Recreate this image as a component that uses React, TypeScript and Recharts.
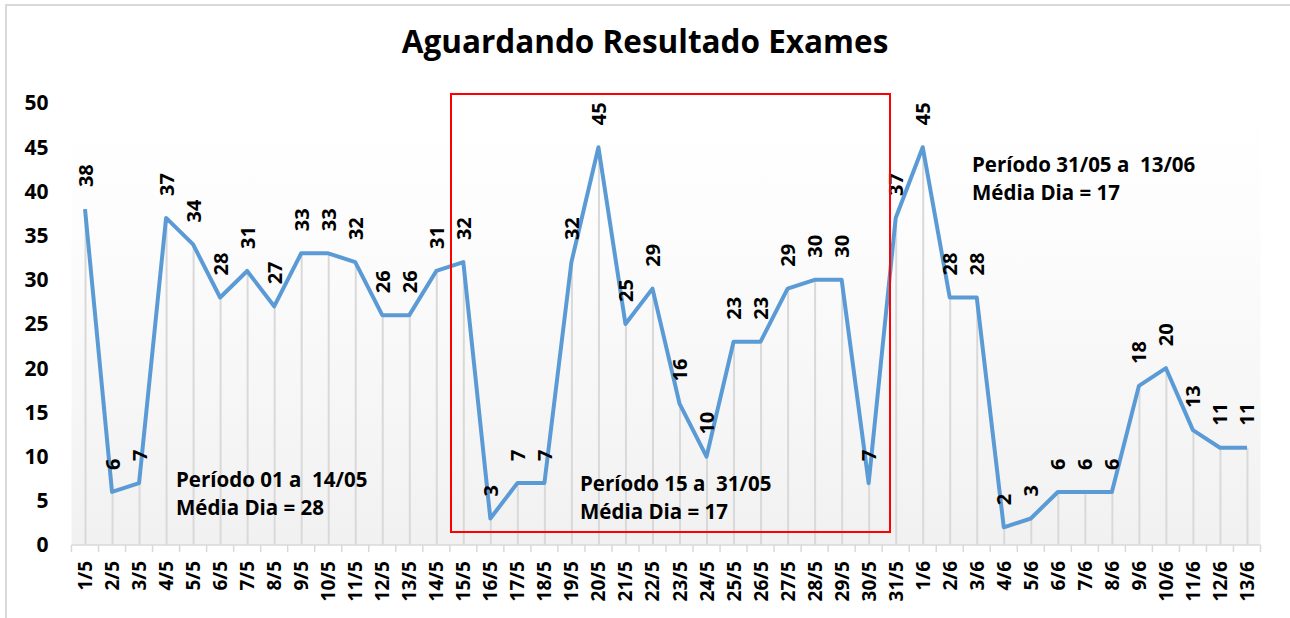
import React from 'react';
import { ComposedChart, Line, Bar, XAxis, YAxis, CartesianGrid, LabelList } from 'recharts';

const categories = [
  '1/5', '2/5', '3/5', '4/5', '5/5', '6/5', '7/5', '8/5', '9/5', '10/5',
  '11/5', '12/5', '13/5', '14/5', '15/5', '16/5', '17/5', '18/5', '19/5', '20/5',
  '21/5', '22/5', '23/5', '24/5', '25/5', '26/5', '27/5', '28/5', '29/5', '30/5',
  '31/5', '1/6', '2/6', '3/6', '4/6', '5/6', '6/6', '7/6', '8/6', '9/6',
  '10/6', '11/6', '12/6', '13/6',
];
const values = [
  38, 6, 7, 37, 34, 28, 31, 27, 33, 33,
  32, 26, 26, 31, 32, 3, 7, 7, 32, 45,
  25, 29, 16, 10, 23, 23, 29, 30, 30, 7,
  37, 45, 28, 28, 2, 3, 6, 6, 6, 18,
  20, 13, 11, 11,
];
const yTicks = [0, 5, 10, 15, 20, 25, 30, 35, 40, 45, 50];
const title = 'Aguardando Resultado Exames';
const notes = [
  { lines: ['Período 01 a  14/05', 'Média Dia = 28'], x: 176, y: 487 },
  { lines: ['Período 15 a  31/05', 'Média Dia = 17'], x: 580, y: 491 },
  { lines: ['Período 31/05 a  13/06', 'Média Dia = 17'], x: 972, y: 172 },
];

const data = categories.map((c, i) => ({ day: c, value: values[i] }));

const W = 1290;
const H = 618;
const PLOT_LEFT = 71.5;
const PLOT_RIGHT = 1260.5;
const PLOT_TOP = 103;
const PLOT_BOTTOM = 545;
const YAXIS_W = 60;
const XAXIS_H = 60;
const BAND = (PLOT_RIGHT - PLOT_LEFT) / categories.length;
const FONT = "'Open Sans', 'DejaVu Sans', sans-serif";

const XTick = (props: any) => {
  const { x, y, payload, index } = props;
  return (
    <g>
      <line x1={x - BAND / 2} x2={x - BAND / 2} y1={y} y2={y + 7} stroke="#d9d9d9" strokeWidth={1.5} />
      {index === categories.length - 1 && (
        <line x1={x + BAND / 2} x2={x + BAND / 2} y1={y} y2={y + 7} stroke="#d9d9d9" strokeWidth={1.5} />
      )}
      <text
        transform={`translate(${x},${y + 16}) rotate(-90)`}
        textAnchor="end"
        dominantBaseline="central"
        fontFamily={FONT}
        fontWeight={700}
        fontSize={19}
        fill="#000"
      >
        {payload.value}
      </text>
    </g>
  );
};

const PointLabel = (props: any) => {
  const { x, y, value } = props;
  return (
    <text
      transform={`translate(${x},${y - 22}) rotate(-90)`}
      textAnchor="start"
      dominantBaseline="central"
      fontFamily={FONT}
      fontWeight={700}
      fontSize={20}
      fill="#000"
    >
      {value}
    </text>
  );
};

export default function App() {
  return (
    <div style={{ position: 'absolute', left: 0, top: 0, width: W, height: H, overflow: 'hidden', background: '#fff' }}>
      <div
        style={{
          position: 'absolute', left: 5, top: 4, width: 1400, height: 800,
          borderLeft: '2px solid #d9d9d9', borderTop: '2px solid #d9d9d9',
        }}
      />
      <div style={{ position: 'absolute', left: 0, top: 0 }}>
        <ComposedChart
          width={W}
          height={H}
          data={data}
          margin={{ top: PLOT_TOP, right: W - PLOT_RIGHT, left: PLOT_LEFT - YAXIS_W, bottom: H - PLOT_BOTTOM - XAXIS_H }}
        >
          <defs>
            <linearGradient id="plotBg" x1="0" y1="0" x2="0" y2="1">
              <stop offset="0%" stopColor="#ffffff" />
              <stop offset="25%" stopColor="#fdfdfd" />
              <stop offset="100%" stopColor="#f1f1f1" />
            </linearGradient>
          </defs>
          <CartesianGrid horizontal={false} vertical={false} fill="url(#plotBg)" />
          <XAxis
            dataKey="day"
            interval={0}
            height={XAXIS_H}
            axisLine={{ stroke: '#d9d9d9', strokeWidth: 1.5 }}
            tickLine={false}
            tickSize={0}
            tickMargin={0}
            tick={<XTick />}
          />
          <YAxis
            width={YAXIS_W}
            domain={[0, 50]}
            ticks={yTicks}
            axisLine={false}
            tickLine={false}
            tickSize={0}
            tickMargin={23}
            tick={{ fontFamily: FONT, fontWeight: 700, fontSize: 21, fill: '#000' }}
          />
          <Bar dataKey="value" barSize={2} fill="#d9d9d9" isAnimationActive={false} />
          <Line
            type="linear"
            dataKey="value"
            stroke="#5b9bd5"
            strokeWidth={4}
            strokeLinejoin="round"
            dot={false}
            activeDot={false}
            isAnimationActive={false}
          >
            <LabelList dataKey="value" content={<PointLabel />} />
          </Line>
        </ComposedChart>
      </div>
      <svg width={W} height={H} style={{ position: 'absolute', left: 0, top: 0, pointerEvents: 'none' }}>
        <text x={645} y={53} textAnchor="middle" fontFamily={FONT} fontWeight={700} fontSize={31.5} fill="#000">
          {title}
        </text>
        <rect x={451} y={94} width={439} height={438} fill="none" stroke="#ff0000" strokeWidth={2} />
        {notes.map((n, i) => (
          <text key={i} fontFamily={FONT} fontWeight={700} fontSize={20.5} fill="#000" style={{ whiteSpace: 'pre' }}>
            {n.lines.map((l, j) => (
              <tspan key={j} x={n.x} y={n.y + j * 28}>
                {l}
              </tspan>
            ))}
          </text>
        ))}
      </svg>
    </div>
  );
}
